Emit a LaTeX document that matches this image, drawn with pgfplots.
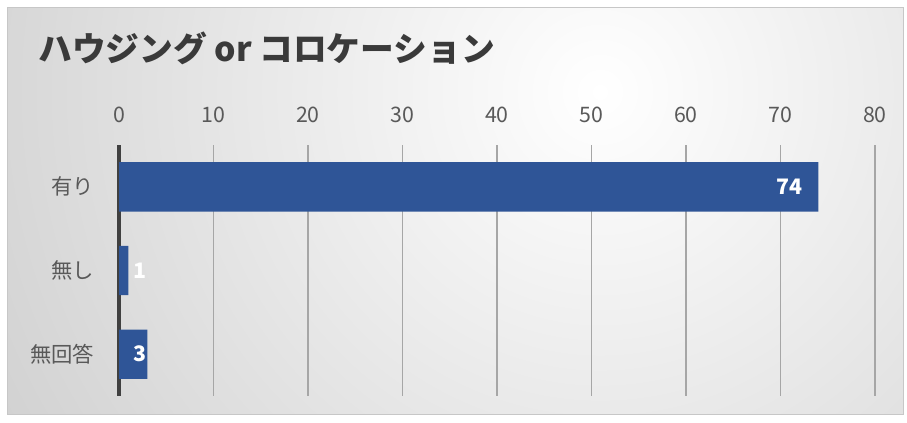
\documentclass[border=0pt]{standalone}
\usepackage{fontspec}
\setmainfont{Noto Sans CJK JP}
\usepackage{pgfplots}
\usepackage{pgfplotstable}
\pgfplotsset{compat=1.18}
\definecolor{barblue}{HTML}{2F5597}
\definecolor{titlecol}{HTML}{3A3A3A}
\definecolor{tickcol}{HTML}{595959}
\definecolor{gridcol}{HTML}{A6A6A6}
\definecolor{zerocol}{HTML}{404040}
\pgfplotstableread{
y val lx lab
0 74 71.0 74
1 1 2.2 1
2 3 2.2 3
}\data
\begin{document}
\begin{tikzpicture}[x=0.75pt,y=0.75pt]
\useasboundingbox (0,0) rectangle (907,422);
\fill[white] (0,0) rectangle (907,422);
\begin{scope}
\clip (7,8) rectangle (903,414);
\shade[inner color=white, outer color=black!30] (600,330) circle (1150);
\end{scope}
\draw[black!22, line width=0.75pt] (7,8) rectangle (903,414);
\node[anchor=west, inner sep=0pt, font=\fontsize{25.3}{30}\selectfont\bfseries, text=titlecol] at (38,374) {ハウジング or コロケーション};
\coordinate (A) at (119,26);
\begin{axis}[
  at={(A)}, anchor=south west,
  scale only axis, width=567pt, height=188.25pt,
  xmin=0, xmax=80, ymin=-0.5, ymax=2.5,
  y dir=reverse,
  axis line style={draw=none},
  major tick length=0pt,
  tick style={draw=none},
  xtick={10,20,...,80},
  extra x ticks={0},
  extra x tick style={grid style={zerocol, line width=2.4pt}},
  xticklabel pos=upper,
  xmajorgrids,
  grid style={gridcol, line width=1.3pt},
  ytick={0,1,2},
  yticklabels={有り,無し,無回答},
  /pgf/number format/assume math mode=true,
  xticklabel style={font=\fontsize{16}{19}\selectfont, text=tickcol, yshift=13pt},
  yticklabel style={font=\fontsize{16}{19}\selectfont, text=tickcol, xshift=-15pt},
  clip=false,
]
\addplot[xbar, bar width=37pt, fill=barblue, draw=none] table[x=val, y=y] {\data};
\addplot[draw=none, mark=none, nodes near coords, point meta=explicit symbolic,
  every node near coord/.style={anchor=center, text=white, font=\fontsize{16}{19}\selectfont\bfseries}]
  table[x=lx, y=y, meta=lab] {\data};
\end{axis}
\end{tikzpicture}
\end{document}
